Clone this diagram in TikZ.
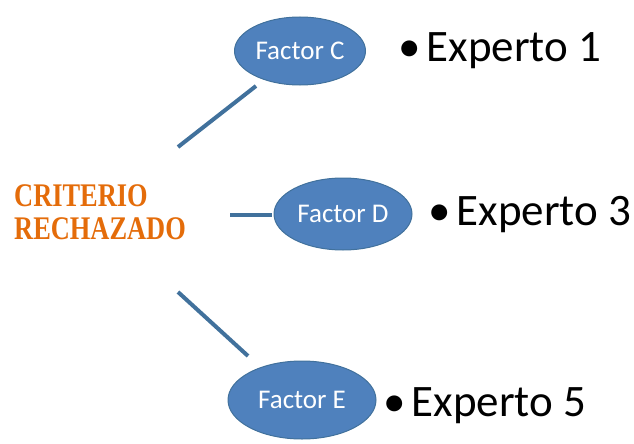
\documentclass[tikz,border=0pt]{standalone}
\usepackage{fontspec}
\setmainfont{Carlito}
\newfontfamily\critfont[FakeStretch=0.8]{Liberation Serif}
\usetikzlibrary{shapes.geometric}
\definecolor{fillblue}{HTML}{4F81BD}
\definecolor{edgeblue}{HTML}{41719C}
\definecolor{linkblue}{HTML}{41719C}
\definecolor{orangetxt}{HTML}{E46C0A}
\begin{document}
\begin{tikzpicture}[x=1pt,y=-1pt,
  factor/.style={ellipse, draw=edgeblue, line width=1pt, fill=fillblue, text=white,
    minimum width=#1, inner sep=0pt, font=\fontsize{27}{30}\selectfont},
  link/.style={draw=linkblue, line width=4pt},
  expert/.style={anchor=base west, inner sep=0pt, font=\fontsize{45}{50}\selectfont},
  crit/.style={anchor=base west, inner sep=0pt, align=left, text=orangetxt,
    font=\critfont\fontsize{33}{30}\selectfont\bfseries}]
\useasboundingbox (0,0) rectangle (634,444);
\node[factor=131pt, minimum height=68pt] (c) at (300,51) {Factor C};
\node[factor=138pt, minimum height=72pt] (d) at (343,214) {Factor D};
\node[factor=148pt, minimum height=78pt] (e) at (302,400) {Factor E};
\node[crit] (crit) at (14,239) {CRITERIO\\[3pt]RECHAZADO};
\coordinate (c0) at (178,147);
\coordinate (c1) at (256,86);
\coordinate (d0) at (230,215);
\coordinate (d1) at (272,215);
\coordinate (e0) at (178,292);
\coordinate (e1) at (248,356);
\draw[link] (c0) -- (c1);
\draw[link] (d0) -- (d1);
\draw[link] (e0) -- (e1);
\node[expert] (x1) at (398,62) {\textbullet\hspace{6pt}Experto 1};
\node[expert] (x3) at (428,225) {\textbullet\hspace{6pt}Experto 3};
\node[expert] (x5) at (383,416) {\textbullet\hspace{6pt}Experto 5};
\end{tikzpicture}
\end{document}
